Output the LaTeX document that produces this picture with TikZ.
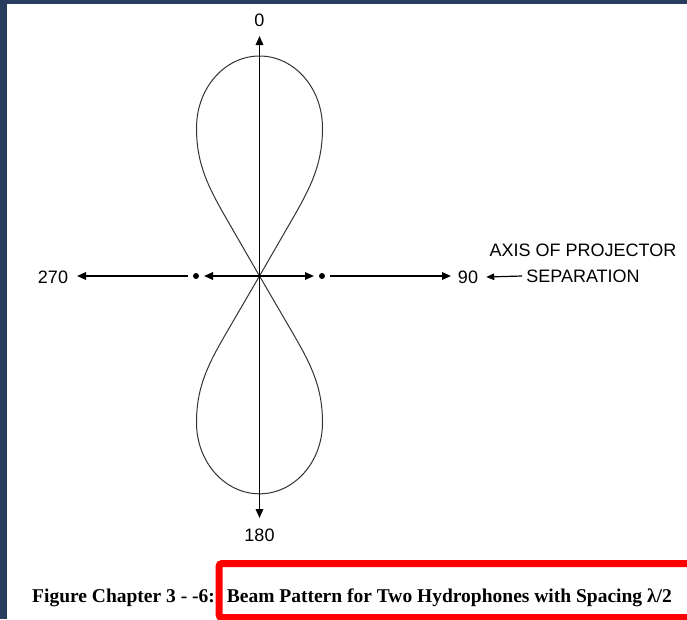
\documentclass[tikz,border=0pt]{standalone}
\usepackage{fontspec}
\setmainfont{Liberation Serif}
\newfontfamily\labfont{Liberation Sans}
\usetikzlibrary{arrows.meta}
\definecolor{navy}{HTML}{283C5E}
\definecolor{boxred}{HTML}{FF0000}
\begin{document}
\begin{tikzpicture}[x=1pt,y=-1pt,
  axis/.style={line width=1.6pt, black},
  arr/.style={axis, -{Triangle[length=9pt,width=7.5pt]}},
  smallarr/.style={line width=1.2pt, black, -{Triangle[length=8pt,width=6.5pt]}},
  lobe/.style={line width=1pt, black!80},
  lab/.style={font=\labfont\fontsize{18}{20}\selectfont, inner sep=0pt},
  dotmark/.style={circle, fill=black, inner sep=0pt, minimum size=6pt},
  captext/.style={font=\bfseries\fontsize{19.5}{22}\selectfont, inner sep=0pt, anchor=base west},
]
\fill[navy] (0,0) rectangle (687,619);
\fill[white] (7,4) rectangle (687,619);
\useasboundingbox (0,0) rectangle (687,619);

% centre and axis end points
\coordinate (O) at (259.5,276);
\coordinate (topTip) at (259.5,36);
\coordinate (botTip) at (259.5,518);
\coordinate (inL) at (204,276);
\coordinate (inR) at (314,276);
\coordinate (oL) at (188,276);
\coordinate (oR) at (330,276);
\coordinate (leftTip) at (77,276);
\coordinate (rightTip) at (451,276);

% lobes
\begin{scope}[shift={(O)}]
  \draw[lobe] (0,0) -- (-30,-52) .. controls (-50,-86.6) and (-63,-110) .. (-63,-148)
    .. controls (-63,-188) and (-34.7,-220) .. (0,-220)
    .. controls (34.7,-220) and (63,-188) .. (63,-148)
    .. controls (63,-110) and (50,-86.6) .. (30,-52) -- cycle;
\end{scope}
\begin{scope}[shift={(O)}, yscale=-0.99]
  \draw[lobe] (0,0) -- (-30,-52) .. controls (-50,-86.6) and (-63,-110) .. (-63,-148)
    .. controls (-63,-188) and (-34.7,-220) .. (0,-220)
    .. controls (34.7,-220) and (63,-188) .. (63,-148)
    .. controls (63,-110) and (50,-86.6) .. (30,-52) -- cycle;
\end{scope}

% axes
\draw[arr] (O) -- (topTip);
\draw[arr] (O) -- (botTip);
\draw[arr] (O) -- (inL);
\draw[arr] (O) -- (inR);
\node[dotmark] (dotL) at (196,276) {};
\node[dotmark] (dotR) at (322,276) {};
\draw[arr] (oL) -- (leftTip);
\draw[arr] (oR) -- (rightTip);

% labels
\node[lab] (n0) at (259.5,20) {0};
\node[lab] (n180) at (259.5,535) {180};
\node[lab] (n270) at (53,277) {270};
\node[lab] (n90) at (468,277) {90};
\node[lab] (axislab) at (583,250) {AXIS OF PROJECTOR};
\node[lab] (sep) at (583,276) {SEPARATION};
\draw[smallarr] ([xshift=-4pt]sep.west) -- ([xshift=8pt]n90.east);

% caption
\node[captext] (cap) at (32,602) {Figure Chapter 3 - -6:\hspace{12pt}Beam Pattern for Two Hydrophones with Spacing λ/2};

% red highlight box
\begin{scope}
  \clip (0,0) rectangle (687,619);
  \draw[boxred, line width=7pt, rounded corners=3pt] (219,563.5) rectangle (700,617.5);
\end{scope}
\end{tikzpicture}
\end{document}
